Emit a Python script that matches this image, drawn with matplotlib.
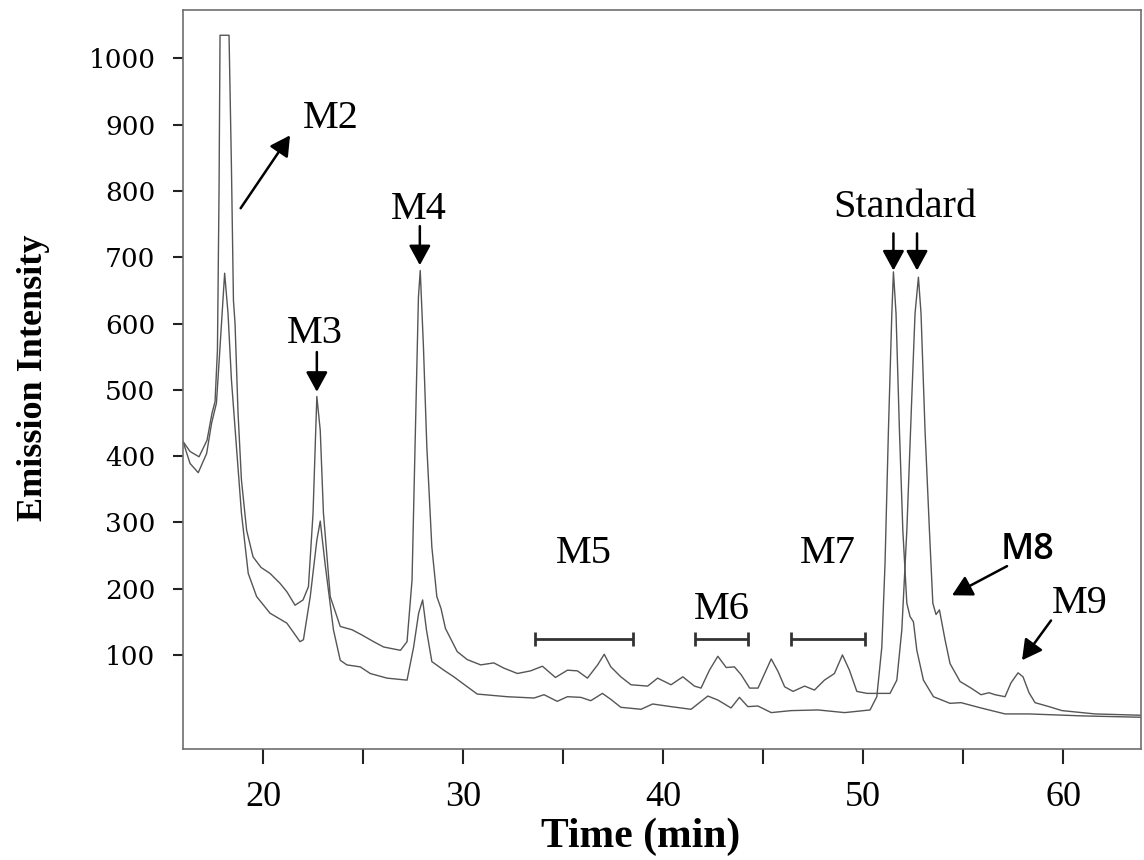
import matplotlib
matplotlib.use('Agg')
import matplotlib.pyplot as plt

# upper chromatogram (higher baseline, carries M8 / M9)
time_a = [16.0, 16.35, 16.8, 17.2, 17.45, 17.6, 17.72, 17.8, 17.85, 18.3,
          18.42, 18.52, 18.6, 18.75, 18.92, 19.18, 19.5, 19.9, 20.35, 20.85,
          21.2, 21.6, 22.0, 22.27, 22.5, 22.69, 22.86, 23.02, 23.36, 23.86,
          24.45, 24.95, 25.53, 26.03, 26.87, 27.2, 27.45, 27.6, 27.77, 27.86,
          28.02, 28.19, 28.44, 28.69, 28.9, 29.12, 29.71, 30.21, 30.88, 31.54,
          32.05, 32.72, 33.38, 33.97, 34.62, 35.22, 35.72, 36.22, 36.73, 37.06,
          37.39, 37.89, 38.4, 39.23, 39.73, 40.4, 40.99, 41.57, 41.9, 42.32,
          42.74, 43.16, 43.57, 43.91, 44.33, 44.75, 45.08, 45.41, 45.75, 46.08,
          46.5, 47.08, 47.57, 48.07, 48.57, 48.97, 49.32, 49.69, 50.2, 51.35,
          51.69, 51.94, 52.19, 52.44, 52.6, 52.77, 52.9, 53.1, 53.32, 53.49,
          53.65, 53.82, 54.1, 54.35, 54.85, 55.4, 55.9, 56.3, 56.6, 57.1,
          57.4, 57.75, 58.0, 58.3, 58.6, 59.3, 59.95, 61.6, 63.9]
signal_a = [422, 407, 399, 424, 465, 482, 560, 800, 1035, 1035,
            836, 635, 600, 465, 364, 288, 248, 232, 223, 208,
            195, 175, 183, 203, 314, 490, 439, 314, 188, 143,
            138, 130, 120, 112, 107, 120, 213, 414, 640, 680,
            565, 414, 263, 188, 170, 140, 105, 93, 85, 88,
            80, 72, 76, 83, 66, 77, 76, 65, 85, 101,
            82, 67, 55, 53, 65, 55, 67, 53, 50, 77,
            98, 81, 82, 70, 50, 50, 72, 94, 75, 52,
            45, 53, 47, 62, 72, 100, 77, 45, 42, 42,
            62, 138, 288, 490, 615, 670, 615, 439, 288, 178,
            161, 168, 123, 87, 60, 50, 40, 43, 40, 37,
            58, 73, 67, 43, 28, 22, 16, 11, 9]

# lower chromatogram
time_b = [16.0, 16.35, 16.76, 17.18, 17.43, 17.67, 17.85, 18.08, 18.25, 18.42,
          18.67, 18.92, 19.26, 19.68, 20.35, 21.19, 21.85, 22.02, 22.36, 22.69,
          22.86, 23.1, 23.52, 23.86, 24.19, 24.86, 25.36, 26.2, 27.2, 27.53,
          27.78, 27.98, 28.17, 28.44, 29.04, 29.54, 30.21, 30.71, 32.2, 33.55,
          34.05, 34.71, 35.22, 35.89, 36.39, 36.97, 37.39, 37.89, 38.9, 39.48,
          40.4, 41.4, 42.24, 42.74, 43.4, 43.82, 44.24, 44.74, 45.41, 46.4,
          47.75, 49.08, 50.35, 50.69, 50.94, 51.1, 51.27, 51.44, 51.52, 51.65,
          51.82, 51.99, 52.19, 52.35, 52.52, 52.69, 53.02, 53.52, 54.35, 54.9,
          55.9, 57.1, 58.3, 61.0, 63.9]
signal_b = [422, 389, 375, 404, 450, 480, 565, 676, 615, 515,
            414, 314, 223, 188, 163, 148, 120, 123, 188, 273,
            302, 238, 138, 92, 85, 82, 72, 65, 62, 112,
            163, 183, 138, 90, 77, 67, 52, 41, 37, 35,
            40, 30, 37, 36, 31, 42, 33, 21, 18, 26,
            22, 18, 38, 32, 20, 36, 22, 23, 13, 16,
            17, 13, 17, 37, 112, 238, 439, 615, 678, 615,
            439, 288, 178, 158, 150, 107, 62, 37, 27, 28,
            20, 11, 11, 8, 6]

y_ticks = [100, 200, 300, 400, 500, 600, 700, 800, 900, 1000]
x_major = [20, 30, 40, 50, 60]
x_minor = [25, 35, 45, 55]

region_names = ['M5', 'M6', 'M7']
region_start = [33.6, 41.6, 46.4]
region_end = [38.5, 44.25, 50.1]
region_level = 124

fig = plt.figure(figsize=(11.44, 8.6), dpi=100)
ax = fig.add_axes([0.16, 0.129, 0.8374, 0.8593])

ax.plot(time_a, signal_a, color='#555555', lw=1.0)
ax.plot(time_b, signal_b, color='#555555', lw=1.0)

ax.set_xlim(16, 63.9)
ax.set_ylim(-42, 1073)

for sp in ax.spines.values():
    sp.set_color('#6e6e6e')
    sp.set_linewidth(1.2)

ax.set_yticks(y_ticks)
ax.set_yticklabels([str(v) for v in y_ticks], fontfamily='DejaVu Serif', fontsize=19)
ax.set_xticks(x_major)
ax.set_xticklabels([str(v) for v in x_major], fontfamily='Liberation Serif', fontsize=26)
ax.set_xticks(x_minor, minor=True)
ax.tick_params(axis='y', direction='out', length=7, width=1.5, pad=13, color='#222222')
ax.tick_params(axis='x', which='both', direction='out', length=11, width=1.5,
               pad=12, color='#222222')

ax.set_ylabel('Emission Intensity', fontfamily='Liberation Serif', fontweight='bold',
              fontsize=26)
ax.yaxis.set_label_coords(-0.139, 0.502)
ax.set_xlabel('Time (min)', fontfamily='Liberation Serif', fontweight='bold', fontsize=30)
ax.xaxis.set_label_coords(0.478, -0.092)

label_font = dict(family='Liberation Serif', size=29, ha='center', va='center')


def arrow(tail, tip):
    ax.annotate('', xy=tip, xytext=tail,
                arrowprops=dict(arrowstyle='-|>,head_length=0.55,head_width=0.3',
                                color='black', lw=1.8, shrinkA=0, shrinkB=0,
                                mutation_scale=22))


# peak labels
ax.text(23.4, 910, 'M2', **label_font)
arrow((18.88, 774), (21.35, 884))
ax.text(22.6, 585, 'M3', **label_font)
arrow((22.69, 557), (22.69, 497))
ax.text(27.8, 772, 'M4', **label_font)
arrow((27.84, 747), (27.84, 688))
ax.text(52.1, 775, 'Standard', **label_font)
arrow((51.52, 736), (51.52, 680))
arrow((52.7, 736), (52.7, 680))
ax.text(58.2, 258, 'M8', family='Open Sans', weight='semibold', size=26,
        ha='center', va='center')
arrow((57.2, 234), (54.45, 190))
ax.text(60.85, 178, 'M9', **label_font)
arrow((59.4, 152), (57.95, 92))

# retention windows for M5-M7
label_y = {'M5': 253, 'M6': 169, 'M7': 253}
for name, x0, x1 in zip(region_names, region_start, region_end):
    mid = (x0 + x1) / 2
    ax.errorbar(mid, region_level, xerr=(x1 - x0) / 2, fmt='none', ecolor='#333333',
                elinewidth=2, capsize=5, capthick=2)
    ax.text(mid, label_y[name], name, **label_font)

fig.savefig('out.png', dpi=100)
